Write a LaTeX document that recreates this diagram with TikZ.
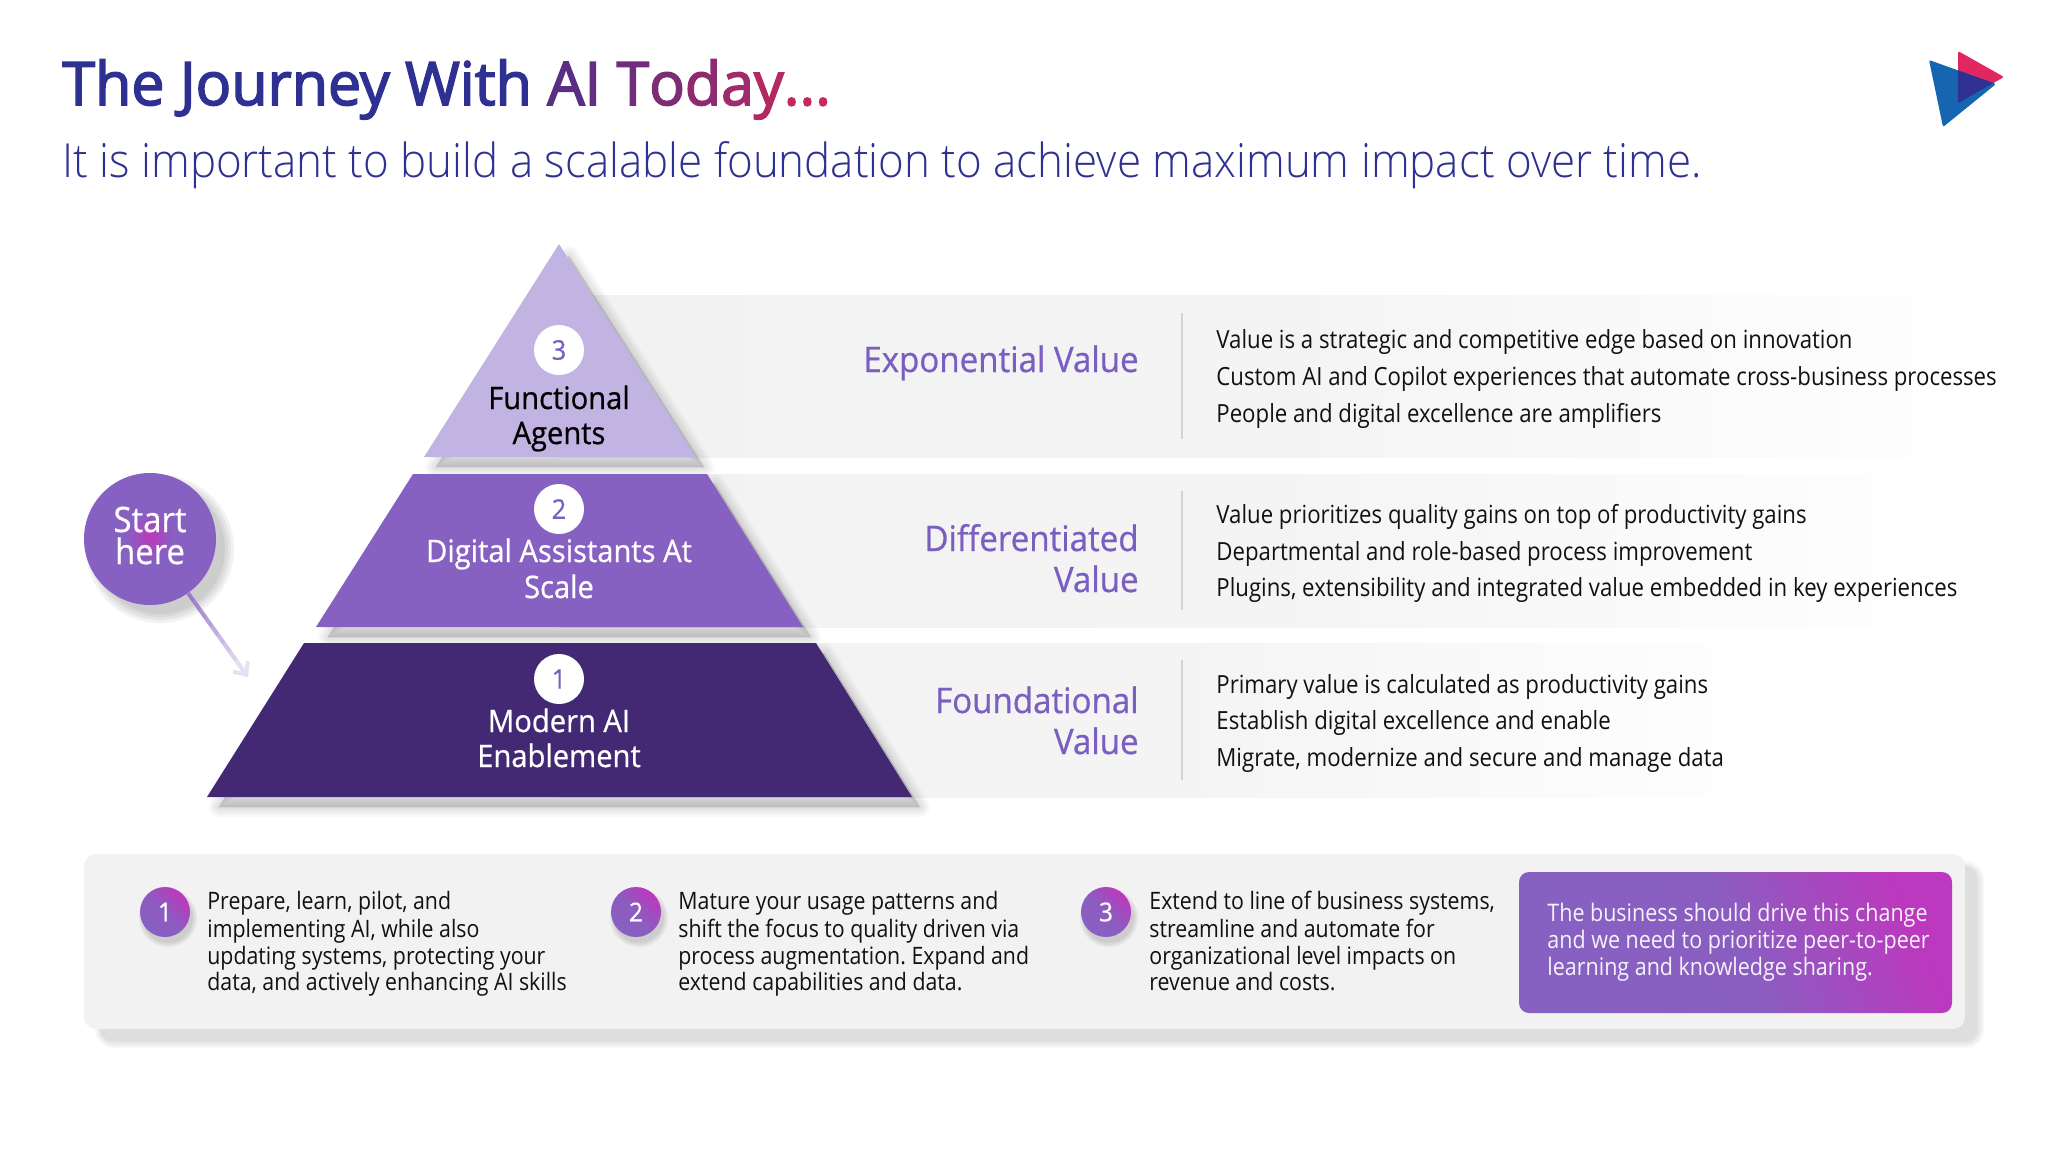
\documentclass[tikz,border=0pt]{standalone}
\usepackage{fontspec}
\setmainfont{Open Sans}[FakeStretch=0.93]
\newfontfamily\lightf{Open Sans Light}[FakeStretch=0.934]
\newfontfamily\semif{Open Sans}[FakeStretch=0.985,FakeBold=2.6]
\newfontfamily\medf{Open Sans}[FakeStretch=0.94,FakeBold=0.7]
\newfontfamily\bodyf{Open Sans}[FakeStretch=0.888]
\usetikzlibrary{calc,arrows.meta}
\frenchspacing
\definecolor{navy}{HTML}{2E3191}
\definecolor{magent}{HTML}{C9285C}
\definecolor{tierA}{HTML}{C2B4E2}
\definecolor{tierB}{HTML}{8661C1}
\definecolor{tierC}{HTML}{432874}
\definecolor{valc}{HTML}{7B5FC0}
\definecolor{bandg}{HTML}{F2F2F2}
\definecolor{pink}{HTML}{BC38BE}
\definecolor{sepc}{HTML}{D2D2D2}
\definecolor{logob}{HTML}{1565B0}
\definecolor{logor}{HTML}{E0275F}
\definecolor{bodyc}{HTML}{111111}
\newcommand{\tc}[2]{\textcolor{navy!#1!magent}{#2}}
\tikzset{
  titlet/.style={anchor=base west,inner sep=0pt,font=\semif\fontsize{30}{36}\selectfont},
  subt/.style={anchor=base west,inner sep=0pt,text=navy,font=\lightf\fontsize{23.5}{28}\selectfont},
  tierlab/.style={anchor=base,inner sep=0pt,font=\medf\fontsize{15.5}{18}\selectfont},
  numc/.style={circle,fill=white,text=valc,minimum size=25pt,inner sep=0pt,font=\medf\fontsize{13.5}{16}\selectfont},
  vallab/.style={anchor=base east,inner sep=0pt,text=valc,font=\medf\fontsize{17.6}{21}\selectfont},
  bodyl/.style={anchor=base west,inner sep=0pt,text=bodyc,font=\bodyf\fontsize{12.5}{15}\selectfont},
  stepl/.style={anchor=base west,inner sep=0pt,text=bodyc,font=\bodyf\fontsize{12}{14}\selectfont},
  gradnum/.style={circle,minimum size=25pt,inner sep=0pt,text=white,left color=tierB,right color=pink,middle color=tierB!85!pink,shading angle=135,font=\medf\fontsize{13}{15}\selectfont},
  callt/.style={anchor=base west,inner sep=0pt,text=white!92!tierB,font=\bodyf\fontsize{12.1}{14}\selectfont},
  startt/.style={anchor=base,inner sep=0pt,text=white,font=\medf\fontsize{17.5}{20}\selectfont},
  sep/.style={draw=sepc,line width=1pt},
}
% soft shadow: stacked translucent strokes round a path
\newcommand{\softshadow}[1]{%
  \foreach \w in {10pt,8pt,6pt,4pt,2pt,0.5pt}{\filldraw[black,opacity=.024,line width=\w,line join=round] #1;}}
\begin{document}
\begin{tikzpicture}[x=.5pt,y=-.5pt]
\useasboundingbox (0,0) rectangle (2048,1152);
\fill[white] (0,0) rectangle (2048,1152);

% title
\node[titlet] (title) at (62,105) {\textcolor{navy}{The Journey With }\tc{72}{A}\tc{66}{I} \tc{58}{T}\tc{48}{o}\tc{38}{d}\tc{26}{a}\tc{14}{y}\tc{5}{.}\tc{3}{.}\tc{0}{.}};
\node[subt] (subtitle) at (62,177) {It is important to build a scalable foundation to achieve maximum impact over time.};

% logo
\fill[logor,rounded corners=1pt] (1958,51) -- (2004,77) -- (1958,103) -- cycle;
\fill[logob,rounded corners=1pt] (1929,60) -- (1996,84) -- (1943,127) -- cycle;
\begin{scope}
  \clip (1958,51) -- (2004,77) -- (1958,103) -- cycle;
  \fill[navy,rounded corners=1pt] (1929,60) -- (1996,84) -- (1943,127) -- cycle;
\end{scope}

% bands
\shade[left color=bandg,right color=white,middle color=bandg!85] (559,295) rectangle (2005,457);
\shade[left color=bandg,right color=white,middle color=bandg!85] (559,474) rectangle (1965,627);
\shade[left color=bandg,right color=white,middle color=bandg!85] (559,643) rectangle (1790,797);

% pyramid shadows
\softshadow{(569,256) -- (704,467) -- (436,467) -- cycle}
\softshadow{(423,484) -- (715,484) -- (811,637) -- (328,637) -- cycle}
\softshadow{(314,653) -- (824,653) -- (920,807) -- (219,807) -- cycle}

% pyramid tiers
\fill[tierA] (559,244) -- (696,457) -- (424,457) -- cycle;
\fill[tierB] (413,474) -- (707,474) -- (803,627) -- (316,627) -- cycle;
\fill[tierC] (304,643) -- (816,643) -- (912,797) -- (207,797) -- cycle;

\node[numc] (n3) at (559,350) {3};
\node[numc] (n2) at (559,509) {2};
\node[numc] (n1) at (559,679) {1};
\node[tierlab,text=black] (l3a) at (559,409) {Functional};
\node[tierlab,text=black] (l3b) at (559,444) {Agents};
\node[tierlab,text=white] (l2a) at (559,562) {Digital Assistants At};
\node[tierlab,text=white] (l2b) at (559,598) {Scale};
\node[tierlab,text=white] (l1a) at (559,732) {Modern AI};
\node[tierlab,text=white] (l1b) at (559,767) {Enablement};

% start circle
\foreach \r in {74,71,68,65}{\fill[black,opacity=.05] (160,549) circle (\r);}
\node[circle,fill=tierB,minimum size=66pt,inner sep=0pt] (start) at (150,539) {};
\shade[inner color=pink,outer color=tierB] (150,537) circle (24);
\node[startt] (st1) at (150,532) {Start};
\node[startt] (st2) at (150,564) {here};
\coordinate (arrowend) at (248,677);
\coordinate (arrowstart) at (188,593);
\draw[color=tierB!20,line width=2pt,-{Straight Barb[length=5pt,width=9pt,line width=2pt]}] (arrowstart) -- (arrowend);
\foreach \i [evaluate=\i as \j using int(\i+1), evaluate=\i as \m using int(85-\i*8)] in {0,...,8}{
  \draw[color=tierB!\m,line width=2pt] ($(arrowstart)!\i/10!(arrowend)$) -- ($(arrowstart)!\j/10!(arrowend)$);
}

% value labels
\node[vallab] (v3) at (1139,372) {Exponential Value};
\node[vallab] (v2a) at (1139,551) {Differentiated};
\node[vallab] (v2b) at (1139,592) {Value};
\node[vallab] (v1a) at (1139,713) {Foundational};
\node[vallab] (v1b) at (1139,754) {Value};

\draw[sep] (1182,313) -- (1182,439);
\draw[sep] (1182,491) -- (1182,610);
\draw[sep] (1182,660) -- (1182,780);

\node[bodyl] (a1) at (1216,348) {Value is a strategic and competitive edge based on innovation};
\node[bodyl] (a2) at (1216,385) {Custom AI and Copilot experiences that automate cross-business processes};
\node[bodyl] (a3) at (1216,422) {People and digital excellence are amplifiers};
\node[bodyl] (b1) at (1216,523) {Value prioritizes quality gains on top of productivity gains};
\node[bodyl] (b2) at (1216,560) {Departmental and role-based process improvement};
\node[bodyl] (b3) at (1216,596) {Plugins, extensibility and integrated value embedded in key experiences};
\node[bodyl] (c1) at (1216,693) {Primary value is calculated as productivity gains};
\node[bodyl] (c2) at (1216,729) {Establish digital excellence and enable};
\node[bodyl] (c3) at (1216,766) {Migrate, modernize and secure and manage data};

% bottom panel
\foreach \w in {7pt,5pt,3pt}{\filldraw[black,opacity=.03,line width=\w,rounded corners=6pt] (102,868) rectangle (1977,1041);}
\fill[black!13,rounded corners=6pt] (100,866) rectangle (1977,1041);
\fill[bandg,rounded corners=6pt] (84,854) rectangle (1965,1029);

\foreach \x in {165,636,1106}{
  \foreach \r in {29,27,25}{\fill[black,opacity=.05] (\x+3,912+6) circle (\r);}
}
\node[gradnum] (s1) at (165,912) {1};
\node[gradnum] (s2) at (636,912) {2};
\node[gradnum] (s3) at (1106,912) {3};

\node[stepl] (p1) at (207,909) {Prepare, learn, pilot, and};
\node[stepl] (p2) at (207,937) {implementing AI, while also};
\node[stepl] (p3) at (207,964) {updating systems, protecting your};
\node[stepl] (p4) at (207,990) {data, and actively enhancing AI skills};

\node[stepl] (q1) at (678,909) {Mature your usage patterns and};
\node[stepl] (q2) at (678,937) {shift the focus to quality driven via};
\node[stepl] (q3) at (678,964) {process augmentation. Expand and};
\node[stepl] (q4) at (678,990) {extend capabilities and data.};

\node[stepl] (r1) at (1149,909) {Extend to line of business systems,};
\node[stepl] (r2) at (1149,937) {streamline and automate for};
\node[stepl] (r3) at (1149,964) {organizational level impacts on};
\node[stepl] (r4) at (1149,990) {revenue and costs.};

\shade[rounded corners=5pt,left color=tierB,right color=pink,middle color=tierB!92!pink,shading angle=115] (1519,872) rectangle (1952,1013);
\node[callt] (k1) at (1547,921) {The business should drive this change};
\node[callt] (k2) at (1547,948) {and we need to prioritize peer-to-peer};
\node[callt] (k3) at (1547,975) {learning and knowledge sharing.};
\end{tikzpicture}
\end{document}
